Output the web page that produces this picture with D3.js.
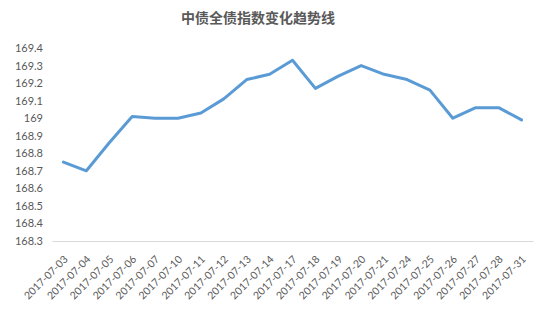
<!DOCTYPE html>
<html>
<head>
<meta charset="utf-8">
<script src="https://cdn.jsdelivr.net/npm/d3@7"></script>
<style>
  body { margin: 0; background: #fff; }
  .tick text { fill: #595959; }
</style>
</head>
<body>
<div id="chart"></div>
<script>
"use strict"

const dates = ["2017-07-03","2017-07-04","2017-07-05","2017-07-06","2017-07-07","2017-07-10",
  "2017-07-11","2017-07-12","2017-07-13","2017-07-14","2017-07-17","2017-07-18","2017-07-19",
  "2017-07-20","2017-07-21","2017-07-24","2017-07-25","2017-07-26","2017-07-27","2017-07-28","2017-07-31"];
const values = [168.75,168.70,168.86,169.01,169.00,169.00,169.03,169.11,169.22,169.25,169.33,
  169.17,169.24,169.30,169.25,169.22,169.16,169.00,169.06,169.06,168.99];
const yTicks = [168.3,168.4,168.5,168.6,168.7,168.8,168.9,169,169.1,169.2,169.3,169.4];

const width = 555, height = 327;
const margin = {top: 48, left: 52, right: 22, bottom: 86};

const svg = d3.select("#chart").append("svg")
  .attr("width", width)
  .attr("height", height);

// Title
svg.append("text")
  .attr("x", 258)
  .attr("y", 23)
  .attr("text-anchor", "middle")
  .attr("font-family", "'Noto Sans CJK SC', sans-serif")
  .attr("font-size", 14)
  .attr("font-weight", "bold")
  .attr("fill", "#595959")
  .text("中债全债指数变化趋势线");

const x = d3.scaleBand()
  .domain(dates)
  .range([margin.left, width - margin.right]);

const y = d3.scaleLinear()
  .domain([168.3, 169.4])
  .range([height - margin.bottom, margin.top]);

// Y axis (labels only)
const yAxis = svg.append("g")
  .attr("transform", `translate(${margin.left - 9},0)`)
  .call(d3.axisLeft(y).tickValues(yTicks).tickSize(0).tickPadding(0).tickFormat(d3.format("~g")));
yAxis.select(".domain").remove();
yAxis.selectAll("text")
  .attr("font-family", "Lato, 'Open Sans', sans-serif")
  .attr("font-size", 11);

// X axis
const xAxis = svg.append("g")
  .attr("transform", `translate(0,${height - margin.bottom})`)
  .call(d3.axisBottom(x).tickSize(0).tickPadding(0));
xAxis.select(".domain")
  .attr("stroke", "#d9d9d9")
  .attr("stroke-width", 1);
xAxis.selectAll("text")
  .attr("font-family", "Lato, 'Open Sans', sans-serif")
  .attr("font-size", 10.5)
  .attr("text-anchor", "end")
  .attr("dy", 0)
  .attr("transform", "translate(5,19) rotate(-45)");

// Line
const line = d3.line()
  .x((d, i) => x(dates[i]) + x.bandwidth() / 2)
  .y(d => y(d));

svg.append("path")
  .datum(values)
  .attr("fill", "none")
  .attr("stroke", "#5b9bd5")
  .attr("stroke-width", 3)
  .attr("stroke-linejoin", "round")
  .attr("stroke-linecap", "round")
  .attr("d", line);
</script>
</body>
</html>
